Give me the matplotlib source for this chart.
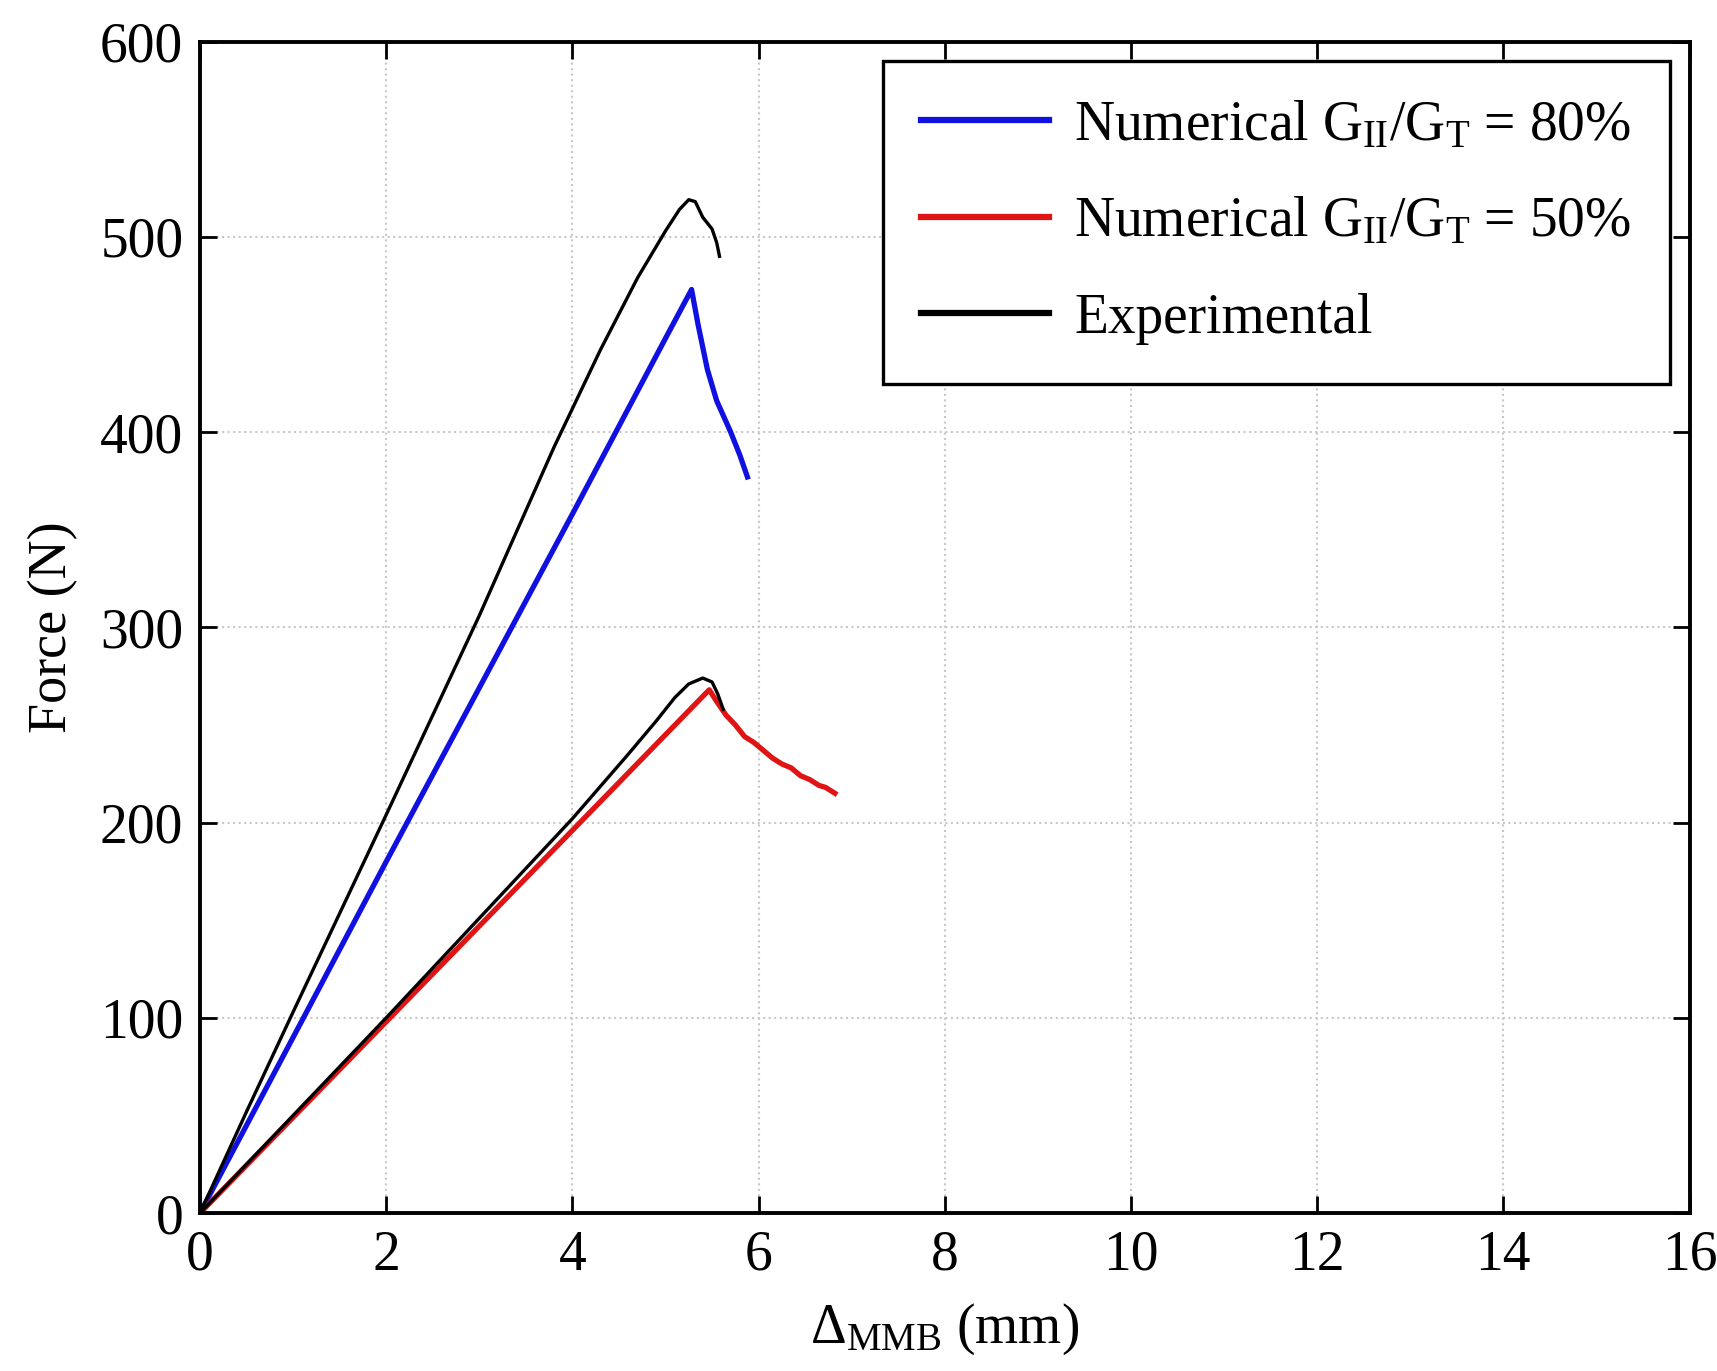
import matplotlib
matplotlib.use("Agg")
import matplotlib.pyplot as plt
import numpy as np

plt.rcParams['font.family'] = ['Liberation Serif', 'DejaVu Serif']
plt.rcParams['mathtext.fontset'] = 'custom'
plt.rcParams['mathtext.rm'] = 'Liberation Serif'
plt.rcParams['mathtext.it'] = 'Liberation Serif:italic'

# datos
x_num80 = [0, 1.0, 2.0, 3.0, 4.0, 5.0, 5.28, 5.35, 5.45, 5.55, 5.7, 5.8, 5.88]
y_num80 = [0, 90, 180, 269, 358, 448, 473, 455, 432, 416, 400, 388, 377]

x_exp80 = [0, 0.5, 1.0, 2.0, 3.0, 3.8, 4.3, 4.7, 5.0, 5.15, 5.25, 5.32, 5.4, 5.5, 5.55, 5.58]
y_exp80 = [0, 52, 103, 204, 306, 392, 442, 479, 503, 514, 519, 518, 510, 504, 497, 490]

x_num50 = [0, 1.0, 2.0, 3.0, 4.0, 5.0, 5.47, 5.55, 5.65, 5.75, 5.85, 5.95, 6.05, 6.15, 6.25,
           6.35, 6.45, 6.55, 6.65, 6.72, 6.82]
y_num50 = [0, 49, 98, 147, 196, 245, 268, 262, 255, 250, 244, 241, 237, 233, 230,
           228, 224, 222, 219, 218, 215]

x_exp50 = [0, 1.0, 2.0, 3.0, 4.0, 4.6, 4.9, 5.1, 5.25, 5.4, 5.5, 5.56, 5.62]
y_exp50 = [0, 50, 100, 151, 202, 235, 252, 264, 271, 274, 272, 266, 258]

labels = [r'Numerical G$_{\mathrm{II}}$/G$_{\mathrm{T}}$ = 80%',
          r'Numerical G$_{\mathrm{II}}$/G$_{\mathrm{T}}$ = 50%',
          'Experimental']

fig = plt.figure(figsize=(17.17, 13.71), dpi=100)
ax = fig.add_axes([0.1165, 0.1152, 0.8675, 0.8545])

ax.plot(x_num80, y_num80, '-', color='#1010e0', lw=3.8, label=labels[0])
ax.plot(x_num50, y_num50, '-', color='#e01414', lw=3.8, label=labels[1])
ax.plot(x_exp80, y_exp80, '-', color='black', lw=2.4, label=labels[2])
ax.plot(x_exp50, y_exp50, '-', color='black', lw=2.4)

ax.set_xlim(0, 16)
ax.set_ylim(0, 600)
ax.set_xticks(np.arange(0, 17, 2))
ax.set_yticks(np.arange(0, 601, 100))
ax.grid(True, linestyle=':', color='#c8c8c8', lw=1.5)
ax.tick_params(direction='in', length=12, width=2, top=True, right=True,
               labelsize=40, pad=12)
for s in ax.spines.values():
    s.set_linewidth(2.8)

ax.set_xlabel(r'$\Delta_{\mathrm{MMB}}$ (mm)', fontsize=40, labelpad=14)
ax.set_ylabel('Force (N)', fontsize=39, labelpad=16)

leg = ax.legend(loc='upper right', fontsize=40, fancybox=False, edgecolor='black',
                borderaxespad=0.35, handlelength=2.3, handletextpad=0.45,
                labelspacing=0.8, borderpad=0.7, framealpha=1)
leg.get_frame().set_linewidth(2.4)
for h in leg.get_lines():
    h.set_linewidth(4.5)

plt.savefig('out.png', dpi=100)
